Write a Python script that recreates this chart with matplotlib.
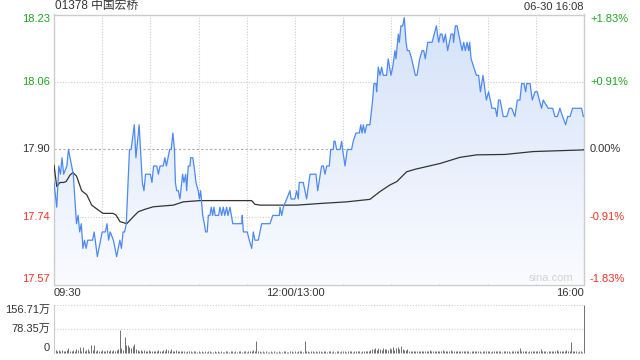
import numpy as np
import matplotlib
matplotlib.use("Agg")
import matplotlib.pyplot as plt
from matplotlib.patches import Polygon

plt.rcParams['font.family'] = ['Liberation Sans', 'Noto Sans CJK SC', 'DejaVu Sans']

TITLE = "01378 中国宏桥"
STAMP = "06-30 16:08"
PREV_CLOSE = 17.90
RANGE_PCT = 1.83
PRICE_LABELS = ['18.23', '18.06', '17.90', '17.74', '17.57']
PCT_LABELS = ['+1.83%', '+0.91%', '0.00%', '-0.91%', '-1.83%']
TIME_TICKS = [0, 150, 330]
TIME_LABELS = ['09:30', '12:00/13:00', '16:00']
VOL_LABELS = ['156.71万', '78.35万', '0']
VOL_MAX = 156.71

# price trace: minutes since 09:30 (lunch break removed) and price
price_t = [0, 1.7, 3, 4, 5, 6, 8, 9, 12, 14, 15, 16, 17, 18, 19, 20, 21, 24, 25, 27,
           28, 30, 32, 33, 34, 35, 37, 38, 39, 41, 42, 43, 44, 45, 47, 48, 50, 51, 53, 55,
           56, 57, 60, 61, 62, 64, 65, 66, 68, 69, 70, 71, 72, 73, 74, 75, 75.6, 76.4, 77.4, 78.4,
           79.5, 80.1, 80.9, 82, 82.6, 83.6, 84.7, 85.1, 86.4, 87.2, 88.4, 89.8, 90.5, 91.3, 92.6, 93.6,
           94.4, 95.4, 96.1, 97.1, 97.9, 98.8, 99.6, 100.4, 102.5, 103.3, 104.4, 105.4, 106.3, 107.5,
           108.3, 109.6, 111.3, 116.9, 117.2, 117.9, 120.3, 121.6, 123.1, 124.1, 125.1, 127.2, 129.3,
           134.5, 136.2, 140.3, 140.7, 141.8, 142.8, 144.9, 146.9, 147.6, 150, 151.1, 152.1, 152.7,
           155.2, 157.3, 159.4, 163.1, 164.2, 166.6, 167.7, 168.7, 169.8, 171.4, 172.3, 173.9, 174.3,
           175, 176, 178.1, 179.1, 179.7, 181.2, 182.6, 185.3, 186.3, 188, 190.1, 191, 191.8, 192.6,
           193.6, 194.7, 196.7, 198.4, 199.2, 200.5, 200.9, 201.9, 203, 204, 205, 207.1, 208.1, 209.8,
           210.9, 212.3, 212.9, 214.4, 215, 216, 217.1, 218.1, 219.2, 220, 221.2, 222.7, 225, 226,
           227.7, 229.2, 230.2, 231.2, 232.7, 235.4, 238.1, 239.5, 240.6, 241.6, 242.6, 243.7, 245.1,
           247.2, 248.4, 248.8, 249.9, 251, 252, 254.1, 255.1, 256.1, 257.2, 258.2, 258.8, 259.7, 263,
           264.4, 265.5, 267.1, 269.2, 270.6, 272.7, 274.8, 275.8, 276.8, 277.8, 279.7, 281.9, 283.5,
           285, 287, 288.5, 290.1, 291.2, 292.6, 293.7, 294.3, 296.4, 297.8, 299.5, 300.9, 302.2,
           303.6, 304.6, 307.7, 310.5, 311.9, 313.4, 315, 316.7, 318.6, 319.8, 321.3, 322.9, 328.5,
           329.6, 330]
price_v = [17.82, 17.76, 17.86, 17.84, 17.88, 17.84, 17.86, 17.90, 17.84, 17.72, 17.74, 17.70, 17.72, 17.66, 17.68, 17.66, 17.68, 17.68, 17.70, 17.64,
           17.66, 17.70, 17.70, 17.72, 17.68, 17.70, 17.68, 17.66, 17.64, 17.68, 17.66, 17.70, 17.70, 17.72, 17.90, 17.90, 17.96, 17.88, 17.96, 17.82,
           17.80, 17.84, 17.84, 17.82, 17.86, 17.86, 17.84, 17.86, 17.86, 17.88, 17.86, 17.88, 17.90, 17.90, 17.94, 17.90, 17.82, 17.80, 17.80, 17.78,
           17.82, 17.84, 17.82, 17.84, 17.80, 17.86, 17.86, 17.88, 17.88, 17.86, 17.82, 17.80, 17.78, 17.80, 17.74, 17.72,
           17.70, 17.70, 17.74, 17.74, 17.76, 17.74, 17.76, 17.74, 17.74, 17.76, 17.74, 17.76, 17.74, 17.76,
           17.74, 17.76, 17.72, 17.72, 17.74, 17.70, 17.70, 17.68, 17.66, 17.70, 17.68, 17.68, 17.72,
           17.72, 17.74, 17.74, 17.76, 17.74, 17.76, 17.78, 17.80, 17.78, 17.78, 17.80, 17.78, 17.82,
           17.82, 17.78, 17.84, 17.84, 17.80, 17.86, 17.86, 17.84, 17.86, 17.86, 17.90, 17.90, 17.92,
           17.92, 17.90, 17.90, 17.92, 17.90, 17.86, 17.90, 17.90, 17.92, 17.94, 17.94, 17.96, 17.94, 17.96,
           17.94, 17.96, 17.96, 18.02, 18.06, 18.06, 18.04, 18.10, 18.08, 18.10, 18.08, 18.08, 18.12, 18.08,
           18.10, 18.14, 18.12, 18.18, 18.16, 18.20, 18.20, 18.22, 18.16, 18.14, 18.14, 18.12, 18.08, 18.08,
           18.12, 18.14, 18.14, 18.12, 18.16, 18.16, 18.20, 18.16, 18.18, 18.18, 18.16, 18.18, 18.14,
           18.18, 18.18, 18.16, 18.20, 18.20, 18.18, 18.14, 18.16, 18.14, 18.16, 18.14, 18.16, 18.12, 18.08,
           18.08, 18.04, 18.08, 18.02, 18.04, 18.00, 18.00, 17.98, 18.02, 18.02, 17.98, 17.98, 18.00,
           18.00, 17.98, 18.02, 18.02, 18.06, 18.06, 18.04, 18.06, 18.06, 18.02, 18.04, 18.04, 18.02,
           18.00, 18.02, 18.00, 18.00, 17.98, 17.98, 18.00, 17.98, 17.96, 17.98, 17.98, 18.00, 18.00,
           17.98, 17.98]

# average price line
avg_t = [0, 1.7, 3.7, 5.8, 7.5, 10, 11.8, 14.1, 17.2, 20.4, 23.5, 27.6, 30.5, 36.7, 38.6, 41.1,
         45.3, 49.4, 52.5, 56.7, 61.8, 74.3, 80.5, 90.9, 123.1, 125.1, 128.3, 151.1, 165.6, 182.2,
         196.7, 203, 209.2, 213.4, 219.6, 224.8, 240.3, 252.8, 263.2, 280.8, 298.4, 329.6, 330]
avg_v = [17.862, 17.81, 17.82, 17.82, 17.822, 17.838, 17.844, 17.835, 17.80, 17.79, 17.765, 17.753,
         17.745, 17.745, 17.741, 17.725, 17.72, 17.737, 17.749, 17.755, 17.761, 17.765, 17.773,
         17.776, 17.776, 17.767, 17.765, 17.765, 17.769, 17.773, 17.779, 17.798, 17.814, 17.822,
         17.846, 17.852, 17.866, 17.881, 17.887, 17.888, 17.895, 17.899, 17.90]

# volume per minute, in 万
volume = [8, 10, 6, 9, 7, 11, 5, 8, 9, 15, 6, 7, 10, 8, 12, 9, 18, 7, 20, 6, 9, 12, 8, 26, 10, 26, 7, 9, 8, 6,
          9, 7, 8, 10, 6, 9, 8, 11, 7, 9, 12, 75, 15, 10, 53, 27, 25, 20, 15, 22, 28, 12, 9, 8, 10, 7, 9, 8, 6, 9,
          7, 8, 6, 5, 7, 9, 6, 8, 10, 7, 12, 9, 8, 13, 6, 7, 10, 8, 6, 5, 7, 6, 4, 6, 5, 7, 4, 5, 6, 4,
          5, 4, 6, 3, 5, 4, 6, 5, 3, 4, 5, 3, 6, 4, 5, 3, 4, 6, 5, 4, 8, 5, 4, 6, 3, 5, 7, 4, 5, 6,
          4, 8, 5, 6, 9, 7, 38, 6, 5, 4, 6, 3, 5, 4, 3, 5, 4, 6, 3, 4, 5, 3, 4, 6, 5, 4, 3, 5, 6, 4,
          5, 4, 7, 5, 6, 4, 38, 6, 5, 4, 6, 5, 3, 7, 4, 5, 6, 4, 5, 7, 4, 6, 5, 3, 6, 4, 7, 5, 4, 6,
          5, 7, 4, 6, 5, 8, 4, 6, 5, 7, 6, 4, 8, 5, 6, 7, 5, 9, 14, 12, 16, 10, 15, 13, 11, 17, 12, 14, 10, 16,
          13, 18, 11, 15, 20, 12, 22, 14, 9, 10, 12, 6, 8, 5, 7, 6, 5, 8, 6, 7, 5, 8, 6, 7, 9, 5, 6, 8, 7, 5,
          7, 6, 9, 5, 6, 8, 7, 10, 6, 5, 7, 6, 8, 5, 7, 6, 5, 8, 6, 4, 7, 5, 6, 8, 5, 6, 4, 7, 5, 6,
          5, 7, 4, 6, 5, 8, 6, 5, 7, 4, 6, 5, 7, 6, 4, 5, 8, 6, 5, 7, 15, 6, 5, 7, 6, 4, 8, 5, 6, 7,
          5, 6, 8, 12, 6, 5, 7, 4, 6, 8, 5, 6, 7, 9, 5, 6, 8, 7, 6, 9, 7, 8, 35, 6, 5, 7, 4, 6, 5, 4, 156.71]

GREEN = '#22a322'
RED = '#f03228'
DARK = '#333333'
GRID = '#cccccc'
LINE = '#4d8af0'

ymax = PREV_CLOSE * (1 + RANGE_PCT / 100)
ymin = PREV_CLOSE * (1 - RANGE_PCT / 100)
tmax = TIME_TICKS[-1]

fig = plt.figure(figsize=(6.4, 3.6), dpi=100)
ax = fig.add_axes([54 / 640, 1 - 284.5 / 360, 530 / 640, 270 / 360])
ax.set_xlim(0, tmax)
ax.set_ylim(ymin, ymax)
ax.set_xticks([])
ax.set_yticks([])
for s in ax.spines.values():
    s.set_color(GRID)
    s.set_linewidth(1)

levels = np.linspace(ymax, ymin, 5)
for i, lv in enumerate(levels[1:-1], start=1):
    if i == 2:
        ax.axhline(lv, color='#aaaaaa', lw=0.8, ls=(0, (2, 2)), zorder=1)
    else:
        ax.axhline(lv, color=GRID, lw=0.8, ls=(0, (1, 1.5)), zorder=1)
for m in range(30, tmax, 30):
    ax.axvline(m, color=GRID, lw=0.8, ls=(0, (1, 1.5)), zorder=1)

# gradient fill under price
verts = [(price_t[0], ymin)] + list(zip(price_t, price_v)) + [(price_t[-1], ymin)]
poly = Polygon(verts, closed=True, facecolor='none', edgecolor='none')
ax.add_patch(poly)
top = np.array([0.83, 0.885, 0.975])
bot = np.array([0.98, 0.985, 1.0])
g = np.linspace(0, 1, 256)[:, None]
grad = top * (1 - g) + bot * g
img = ax.imshow(grad[:, None, :].repeat(2, axis=1), extent=[0, tmax, ymin, ymax],
                aspect='auto', origin='upper', zorder=2)
img.set_clip_path(poly)

ax.plot(price_t, price_v, color=LINE, lw=0.9, zorder=4)
ax.plot(avg_t, avg_v, color='#333333', lw=0.9, zorder=3)

# left / right labels
for i, (lv, pl, cl) in enumerate(zip(levels, PRICE_LABELS, PCT_LABELS)):
    if i < 2:
        col = GREEN
    elif i == 2:
        col = DARK
    else:
        col = RED
    va = 'top' if i == 0 else ('bottom' if i == 4 else 'center')
    ax.annotate(pl, xy=(0, lv), xycoords=('axes fraction', 'data'), xytext=(-4, 0),
                textcoords='offset pixels', ha='right', va=va, color=col, fontsize=8)
    ax.annotate(cl, xy=(1, lv), xycoords=('axes fraction', 'data'), xytext=(6, 0),
                textcoords='offset pixels', ha='left', va=va, color=col, fontsize=8)

for m, lab in zip(TIME_TICKS, TIME_LABELS):
    ha = 'left' if m == 0 else ('right' if m == tmax else 'center')
    ax.annotate(lab, xy=(m, 0), xycoords=('data', 'axes fraction'), xytext=(0, -3),
                textcoords='offset pixels', ha=ha, va='top', color=DARK, fontsize=8)

ax.text(0.002, 1.008, TITLE, transform=ax.transAxes, ha='left', va='bottom', color=DARK, fontsize=8.5)
ax.text(1.0, 1.008, STAMP, transform=ax.transAxes, ha='right', va='bottom', color=DARK, fontsize=8)
ax.text(0.979, 0.005, 'sina.com', transform=ax.transAxes, ha='right', va='bottom',
        color='#d4d4d4', fontsize=8)

# volume panel
vax = fig.add_axes([54 / 640, 1 - 353 / 360, 530 / 640, 48 / 360])
vax.set_xlim(0, tmax)
vax.set_ylim(0, VOL_MAX)
vax.set_xticks([])
vax.set_yticks([])
for k, s in vax.spines.items():
    s.set_visible(k == 'left')
vax.spines['left'].set_color(GRID)
vax.axhline(VOL_MAX, color=GRID, lw=0.8, ls=(0, (1, 1.5)))
vax.axhline(VOL_MAX / 2, color=GRID, lw=0.8, ls=(0, (1, 1.5)))
vt = np.arange(len(volume))
vax.vlines(vt, 0, volume, color='#707070', lw=0.7, clip_on=False)
for lv, lab, va in zip([VOL_MAX, VOL_MAX / 2, 0], VOL_LABELS, ['top', 'center', 'bottom']):
    vax.annotate(lab, xy=(0, lv), xycoords=('axes fraction', 'data'), xytext=(-4, 0),
                 textcoords='offset pixels', ha='right', va=va, color=DARK, fontsize=8)

fig.savefig('out.png', dpi=100)
